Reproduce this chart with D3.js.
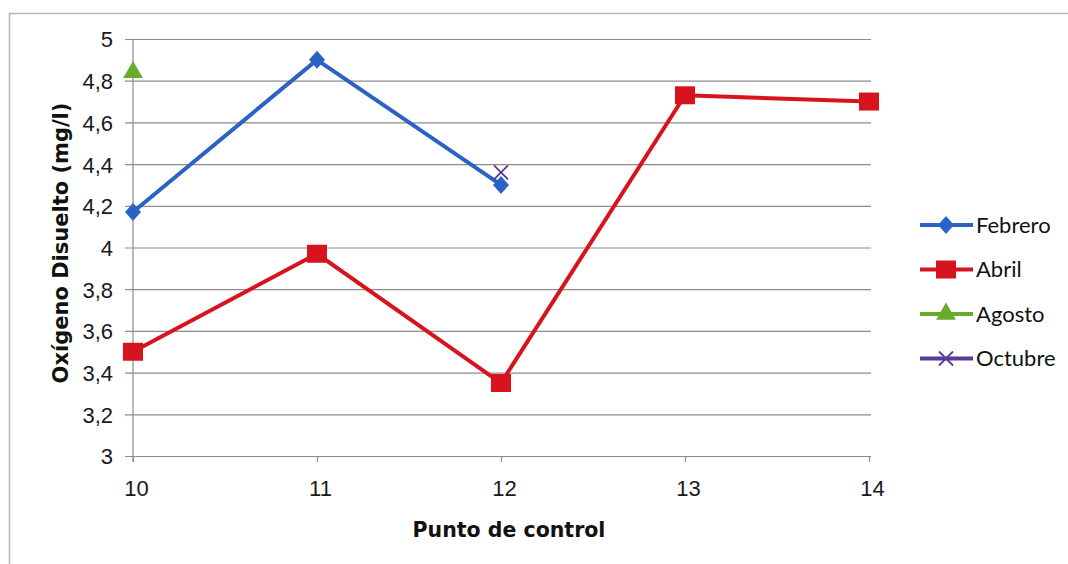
<!DOCTYPE html>
<html>
<head>
<meta charset="utf-8">
<script src="https://cdn.jsdelivr.net/npm/d3@7"></script>
<style>
  html, body { margin: 0; padding: 0; background: #fff; }
  svg { display: block; font-family: Lato, "Open Sans", sans-serif; }
</style>
</head>
<body>
<svg id="chart" width="1068" height="564"></svg>
<script>
// Dissolved oxygen per control point, by sampling month
const puntos = [10, 11, 12, 13, 14];
const febrero = [4.17, 4.90, 4.30, null, null];
const abril = [3.50, 3.97, 3.35, 4.73, 4.70];
const agosto = [4.84, null, null, null, null];
const octubre = [null, null, 4.36, null, null];
const yTicks = [3, 3.2, 3.4, 3.6, 3.8, 4, 4.2, 4.4, 4.6, 4.8, 5];
const seriesNames = ["Febrero", "Abril", "Agosto", "Octubre"];

const series = [
  { name: seriesNames[0], values: febrero, color: "#2a62c6", symbol: "diamond" },
  { name: seriesNames[1], values: abril, color: "#d7141e", symbol: "square" },
  { name: seriesNames[2], values: agosto, color: "#6aaa2c", symbol: "triangle" },
  { name: seriesNames[3], values: octubre, color: "#5a3a9a", symbol: "cross" }
];

const svg = d3.select("#chart");
const plotLeft = 133, plotRight = 869, plotTop = 39, plotBottom = 456;

const x = d3.scaleLinear().domain([10, 14]).range([plotLeft, plotRight]);
const y = d3.scaleLinear().domain([3, 5]).range([plotBottom, plotTop]);

// Outer chart frame
svg.append("rect")
  .attr("x", 9.5).attr("y", 13.5)
  .attr("width", 1080).attr("height", 600)
  .attr("fill", "none").attr("stroke", "#b5b5b5").attr("stroke-width", 1.5);

// Horizontal gridlines with small tick marks on the left
const yAxis = d3.axisLeft(y).tickValues(yTicks)
  .tickSize(-(plotRight - plotLeft + 2))
  .tickFormat(d => d3.format(".1f")(d).replace(/\.0$/, "").replace(".", ","));
const gy = svg.append("g").attr("transform", `translate(${plotLeft},0)`).call(yAxis);
gy.select(".domain").remove();
gy.selectAll(".tick line").attr("stroke", "#8c8c8c").attr("stroke-width", 1.2).attr("x1", -8);
gy.selectAll(".tick text").attr("x", -20).attr("dy", "0.36em")
  .attr("font-size", 22).attr("fill", "#1a1a1a");

// Vertical axis line
svg.append("line")
  .attr("x1", plotLeft).attr("x2", plotLeft).attr("y1", plotTop).attr("y2", plotBottom + 6)
  .attr("stroke", "#8c8c8c").attr("stroke-width", 1.2);

// Bottom axis with category ticks
const xAxis = d3.axisBottom(x).tickValues(puntos).tickSize(6).tickFormat(d3.format("d"));
const gx = svg.append("g").attr("transform", `translate(0,${plotBottom})`).call(xAxis);
gx.select(".domain").remove();
gx.selectAll(".tick line").attr("stroke", "#8c8c8c").attr("stroke-width", 1.2);
gx.selectAll(".tick text").attr("y", 40).attr("dy", null).attr("dx", 3)
  .attr("font-size", 22).attr("fill", "#1a1a1a");

// Axis titles
svg.append("text")
  .attr("x", 509).attr("y", 537).attr("text-anchor", "middle")
  .attr("font-family", "'DejaVu Sans', sans-serif")
  .attr("font-size", 20.5).attr("font-weight", "bold").attr("fill", "#111")
  .text("Punto de control");
svg.append("text")
  .attr("transform", `translate(68,243) rotate(-90)`).attr("text-anchor", "middle")
  .attr("font-family", "'DejaVu Sans', sans-serif")
  .attr("font-size", 21).attr("font-weight", "bold").attr("fill", "#111")
  .text("Oxígeno Disuelto (mg/l)");

// Marker drawing helper
function marker(g, symbol, color, cx, cy) {
  if (symbol === "diamond") {
    g.append("path").attr("d", `M${cx},${cy - 9}L${cx + 8},${cy}L${cx},${cy + 9}L${cx - 8},${cy}Z`).attr("fill", color);
  } else if (symbol === "square") {
    g.append("rect").attr("x", cx - 10).attr("y", cy - 9).attr("width", 20).attr("height", 18).attr("fill", color);
  } else if (symbol === "triangle") {
    g.append("path").attr("d", d3.symbol(d3.symbolTriangle, 170)()).attr("transform", `translate(${cx},${cy})`).attr("fill", color);
  } else if (symbol === "cross") {
    g.append("path").attr("d", `M${cx - 7},${cy - 7}L${cx + 7},${cy + 7}M${cx - 7},${cy + 7}L${cx + 7},${cy - 7}`)
      .attr("stroke", color).attr("stroke-width", 1.8).attr("fill", "none");
  }
}

const line = d3.line().defined(d => d.v != null).x(d => x(d.p)).y(d => y(d.v));

series.forEach(s => {
  const data = s.values.map((v, i) => ({ p: puntos[i], v }));
  const g = svg.append("g");
  g.append("path").datum(data).attr("d", line)
    .attr("fill", "none").attr("stroke", s.color).attr("stroke-width", 4)
    .attr("stroke-linejoin", "round");
  data.filter(d => d.v != null).forEach(d => marker(g, s.symbol, s.color, x(d.p), y(d.v)));
});

// Legend
const legend = svg.append("g");
series.forEach((s, i) => {
  const ly = 225 + i * 44.5;
  legend.append("line").attr("x1", 920).attr("x2", 973).attr("y1", ly).attr("y2", ly)
    .attr("stroke", s.color).attr("stroke-width", 4);
  marker(legend, s.symbol, s.color, 946, ly);
  legend.append("text").attr("x", 976).attr("y", ly).attr("dy", "0.36em")
    .attr("font-size", 22).attr("fill", "#111").text(s.name);
});
</script>
</body>
</html>
